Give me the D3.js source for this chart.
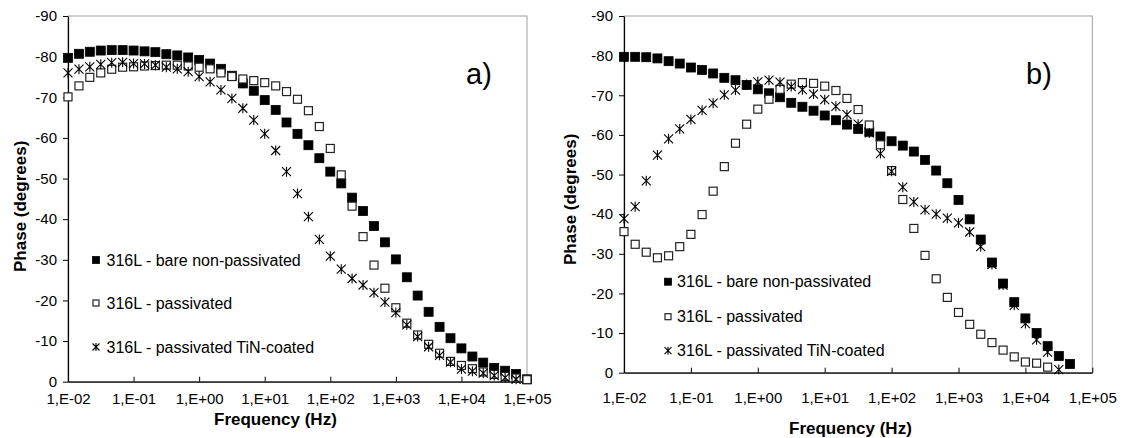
<!DOCTYPE html>
<html lang="en">
    <head>
        <meta charset="utf-8">
        <title>Phase vs Frequency</title>
        <script type="text/javascript" src="https://d3js.org/d3.v7.min.js"></script>
        <style type="text/css">
            body {
                margin: 0;
                background: #ffffff;
            }
            svg text {
                font-family: "Liberation Sans", Arial, Helvetica, sans-serif;
                fill: #000000;
            }
            .tick text {
                font-size: 15px;
            }
            .tick line {
                stroke: #000000;
            }
            .domain {
                stroke: #000000;
            }
            .title {
                font-size: 17px;
                font-weight: bold;
            }
            .legend {
                font-size: 16px;
            }
            .panel {
                font-size: 29px;
            }
        </style>
    </head>
    <body>
        <script type="text/javascript">

        // frequencies (Hz), 6 points per decade
        const freq = [0.01, 0.0147, 0.0215, 0.0316, 0.0464, 0.0681,
                      0.1, 0.147, 0.215, 0.316, 0.464, 0.681,
                      1, 1.47, 2.15, 3.16, 4.64, 6.81,
                      10, 14.7, 21.5, 31.6, 46.4, 68.1,
                      100, 147, 215, 316, 464, 681,
                      1000, 1470, 2150, 3160, 4640, 6810,
                      10000, 14700, 21500, 31600, 46400, 68100,
                      100000];

        const decades = [1e-2, 1e-1, 1e0, 1e1, 1e2, 1e3, 1e4, 1e5];
        const phaseTicks = [0, -10, -20, -30, -40, -50, -60, -70, -80, -90];
        const seriesNames = ["316L - bare non-passivated", "316L - passivated", "316L - passivated TiN-coated"];

        // panel a) phase values (degrees)
        const bareA = [-79.7, -80.7, -81.2, -81.5, -81.6, -81.6, -81.5, -81.3, -81.1, -80.6,
                       -80.3, -79.8, -79.2, -78.3, -77.0, -75.3, -73.4, -71.6, -69.3, -66.9,
                       -63.8, -61.0, -58.2, -55.0, -51.7, -48.8, -45.3, -42.0, -38.3, -34.3,
                       -30.1, -25.7, -21.2, -17.2, -13.5, -10.7, -8.2, -6.2, -4.7, -3.4,
                       -2.7, -1.9, -0.6];
        const passA = [-70.1, -72.8, -74.9, -76.0, -76.9, -77.4, -77.5, -77.7, -77.8, -77.9,
                       -77.9, -77.7, -77.4, -77.0, -76.0, -75.1, -74.5, -74.1, -73.6, -72.8,
                       -71.4, -69.5, -66.7, -62.8, -57.4, -50.9, -43.2, -35.7, -28.7, -23.0,
                       -18.2, -14.4, -11.5, -9.2, -7.0, -5.0, -4.0, -3.2, -2.4, -1.8,
                       -1.3, -0.9, -0.5];
        const tinA = [-76.0, -76.9, -77.5, -78.1, -78.5, -78.6, -78.3, -78.2, -77.9, -77.4,
                      -77.0, -76.3, -75.1, -73.8, -71.8, -69.7, -67.3, -64.4, -61.0, -56.9,
                      -51.7, -46.3, -40.6, -35.0, -30.9, -27.7, -25.4, -23.8, -21.9, -19.6,
                      -17.0, -14.0, -11.1, -8.6, -6.5, -4.8, -3.1, -2.6, -2.1, -1.5,
                      -1.0, -0.6];

        // panel b) phase values (degrees)
        const bareB = [-79.7, -79.7, -79.6, -79.3, -78.6, -78.0, -77.0, -76.4, -75.5, -74.4,
                       -73.8, -72.6, -71.5, -70.5, -69.5, -68.1, -67.1, -66.1, -64.9, -63.7,
                       -62.6, -61.5, -60.8, -59.6, -58.4, -57.3, -55.8, -53.7, -51.0, -47.8,
                       -43.6, -38.7, -33.6, -27.8, -22.5, -17.8, -13.7, -10.0, -6.7, -4.2,
                       -2.2];
        const passB = [-35.6, -32.4, -30.4, -29.0, -29.5, -31.8, -34.9, -39.9, -45.8, -52.0,
                       -57.9, -62.7, -66.5, -69.0, -71.5, -72.8, -73.2, -73.0, -72.3, -71.2,
                       -69.2, -66.4, -62.5, -57.5, -51.0, -43.7, -36.4, -29.6, -23.7, -19.0,
                       -15.2, -12.2, -9.7, -7.6, -5.7, -4.0, -2.7, -2.4, -1.4];
        const tinB = [-38.9, -41.9, -48.4, -54.9, -59.0, -61.5, -63.9, -66.2, -68.0, -70.1,
                      -71.3, -72.7, -73.4, -73.8, -73.3, -72.2, -71.4, -70.3, -68.9, -67.2,
                      -65.1, -62.7, -60.5, -55.3, -50.8, -46.8, -43.1, -41.1, -40.0, -39.0,
                      -37.8, -35.5, -31.8, -27.3, -22.1, -17.0, -12.4, -8.3, -5.2, -0.8];

        const width = 1122;
        const height = 438;

        const svg = d3.select("body")
                    .append("svg")
                    .attr("width", width)
                    .attr("height", height);

        // x tick label like excel: 1,E-02
        function expLabel(d) {
            const e = Math.round(Math.log10(d));
            const s = e < 0 ? "-" : "+";
            return "1,E" + s + String(Math.abs(e)).padStart(2, "0");
        }

        // marker shapes
        function drawMarker(g, type, cx, cy, size) {
            const h = size / 2;
            if (type === "filled") {
                g.append("rect")
                    .attr("x", cx - h).attr("y", cy - h)
                    .attr("width", size).attr("height", size)
                    .attr("fill", "#000000")
                    .attr("stroke", "#000000")
                    .attr("stroke-width", 0.8);
            } else if (type === "open") {
                g.append("rect")
                    .attr("x", cx - h + 0.5).attr("y", cy - h + 0.5)
                    .attr("width", size - 1).attr("height", size - 1)
                    .attr("fill", "#ffffff")
                    .attr("stroke", "#222222")
                    .attr("stroke-width", 1.2);
            } else {
                const p = "M" + (cx - h) + "," + (cy - h) + "L" + (cx + h) + "," + (cy + h) +
                          "M" + (cx + h) + "," + (cy - h) + "L" + (cx - h) + "," + (cy + h) +
                          "M" + cx + "," + (cy - h - 0.5) + "L" + cx + "," + (cy + h + 0.5);
                g.append("path")
                    .attr("d", p)
                    .attr("fill", "none")
                    .attr("stroke", "#000000")
                    .attr("stroke-width", 1.1);
            }
        }

        function drawPanel(cfg) {
            const xScale = d3.scaleLog()
                            .domain([1e-2, 1e5])
                            .range([cfg.left, cfg.right]);
            const yScale = d3.scaleLinear()
                            .domain([0, -90])
                            .range([cfg.bottom, cfg.top]);

            const g = svg.append("g");

            // plot area border (gray)
            g.append("rect")
                .attr("x", cfg.left)
                .attr("y", cfg.top)
                .attr("width", cfg.right - cfg.left)
                .attr("height", cfg.bottom - cfg.top)
                .attr("fill", "none")
                .attr("stroke", "#a0a0a0")
                .attr("stroke-width", 1);

            // left axis
            const leftAxis = d3.axisLeft(yScale)
                            .tickValues(phaseTicks)
                            .tickSize(5)
                            .tickSizeOuter(0)
                            .tickPadding(6)
                            .tickFormat(d => String(d));
            g.append("g")
                .attr("transform", "translate(" + cfg.left + ",0)")
                .call(leftAxis)
                .call(a => a.selectAll("text").attr("font-size", 15).attr("font-family", null));

            // bottom axis, ticks inside
            const bottomAxis = d3.axisBottom(xScale)
                            .tickValues(decades)
                            .tickSize(-5)
                            .tickSizeOuter(0)
                            .tickPadding(cfg.xPad)
                            .tickFormat(expLabel);
            g.append("g")
                .attr("transform", "translate(0," + cfg.bottom + ")")
                .call(bottomAxis)
                .call(a => a.selectAll("text").attr("font-size", 15).attr("font-family", null));

            g.selectAll(".domain").attr("stroke-width", 1.2);

            // markers: filled squares, open squares, then stars on top
            const sets = [["filled", cfg.bare], ["open", cfg.pass], ["star", cfg.tin]];
            sets.forEach(function(s) {
                const mg = g.append("g");
                s[1].forEach(function(v, i) {
                    drawMarker(mg, s[0], xScale(freq[i]), yScale(v), 9);
                });
            });

            // legend
            const types = ["filled", "open", "star"];
            types.forEach(function(t, i) {
                const ly = cfg.legendY[i];
                drawMarker(g, t, cfg.legendX, ly, 7);
                g.append("text")
                    .attr("class", "legend")
                    .attr("x", cfg.legendTextX)
                    .attr("y", ly + 5.7)
                    .text(seriesNames[i]);
            });

            // axis titles
            g.append("text")
                .attr("class", "title")
                .attr("x", cfg.xTitleX)
                .attr("y", cfg.xTitleY)
                .text("Frequency (Hz)");
            g.append("text")
                .attr("class", "title")
                .attr("transform", "translate(" + cfg.yTitleX + "," + cfg.yTitleY + ") rotate(-90)")
                .text("Phase (degrees)");

            // panel label
            g.append("text")
                .attr("class", "panel")
                .attr("x", cfg.labelX)
                .attr("y", cfg.labelY)
                .text(cfg.label);
        }

        drawPanel({
            left: 68, right: 527, top: 16, bottom: 381.7, xPad: 11.5,
            bare: bareA, pass: passA, tin: tinA,
            legendX: 96, legendTextX: 106.5, legendY: [260, 303, 347],
            xTitleX: 214, xTitleY: 425,
            yTitleX: 25.5, yTitleY: 272,
            label: "a)", labelX: 466, labelY: 84
        });

        drawPanel({
            left: 624, right: 1092.3, top: 16, bottom: 372.7, xPad: 20,
            bare: bareB, pass: passB, tin: tinB,
            legendX: 668, legendTextX: 677, legendY: [281.7, 316.7, 350.7],
            xTitleX: 789, xTitleY: 434,
            yTitleX: 575.5, yTitleY: 265,
            label: "b)", labelX: 1026, labelY: 84
        });

        </script>
    </body>
</html>
